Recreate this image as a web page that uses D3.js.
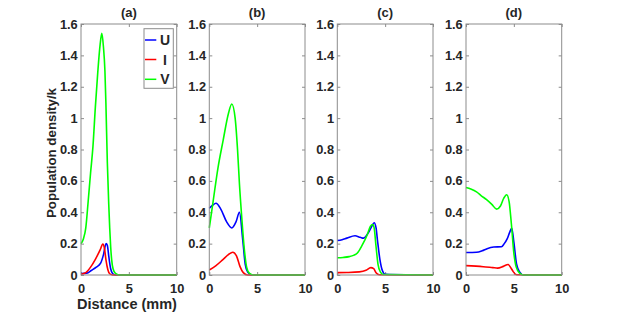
<!DOCTYPE html>
<html>
<head>
<meta charset="utf-8">
<script src="https://cdn.jsdelivr.net/npm/d3@7"></script>
<style>
  body { margin: 0; background: #fff; }
  svg text { font-family: "Liberation Sans", Arial, sans-serif; font-weight: bold; fill: #262626; }
</style>
</head>
<body>
<svg id="chart" width="623" height="313"></svg>
<script>
// panel titles and tick labels
const panelTitles = ["(a)", "(b)", "(c)", "(d)"];
const xTicks = [0, 5, 10];
const yTicks = [0, 0.2, 0.4, 0.6, 0.8, 1, 1.2, 1.4, 1.6];
const seriesNames = ["U", "I", "V"];
const seriesColors = ["#0000ff", "#ff0000", "#00ff00"];

// panel (a)
const aUx = [0, 0.6, 1.1, 1.6, 2.05, 2.35, 2.62, 2.75, 2.9, 3.1, 3.3, 3.6, 10];
const aUy = [0.01, 0.012, 0.03, 0.05, 0.075, 0.13, 0.2, 0.19, 0.12, 0.04, 0.01, 0, 0];
const aIx = [0, 0.5, 1.0, 1.5, 2.0, 2.28, 2.45, 2.6, 2.8, 3.0, 3.3, 10];
const aIy = [0.005, 0.015, 0.05, 0.1, 0.16, 0.197, 0.17, 0.1, 0.035, 0.008, 0, 0];
const aVx = [0, 0.25, 0.5, 0.75, 1.0, 1.25, 1.5, 1.75, 2.0, 2.18, 2.35, 2.5, 2.6, 2.75, 2.9, 3.0, 3.1, 3.2, 3.35, 3.6, 4.0, 10];
const aVy = [0.2, 0.23, 0.3, 0.47, 0.65, 0.82, 1.07, 1.29, 1.47, 1.54, 1.45, 1.3, 1.1, 0.72, 0.45, 0.3, 0.18, 0.1, 0.04, 0.01, 0, 0];

// panel (b)
const bUx = [0, 0.35, 0.7, 1.2, 1.8, 2.35, 2.8, 3.15, 3.5, 3.75, 4.0, 4.4, 10];
const bUy = [0.425, 0.445, 0.457, 0.42, 0.34, 0.3, 0.34, 0.4, 0.22, 0.07, 0.02, 0, 0];
const bIx = [0, 0.7, 1.45, 2.0, 2.45, 2.85, 3.2, 3.55, 4.0, 10];
const bIy = [0.032, 0.06, 0.1, 0.13, 0.145, 0.12, 0.055, 0.015, 0, 0];
const bVx = [0, 0.4, 0.9, 1.45, 2.0, 2.35, 2.7, 2.95, 3.15, 3.4, 3.65, 3.9, 4.2, 4.6, 10];
const bVy = [0.3, 0.47, 0.68, 0.86, 1.03, 1.09, 1.0, 0.8, 0.58, 0.36, 0.17, 0.05, 0.01, 0, 0];

// panel (c)
const cUx = [0, 0.5, 1.0, 1.85, 2.4, 2.75, 3.25, 3.6, 3.85, 4.05, 4.2, 4.45, 4.7, 5.0, 10];
const cUy = [0.22, 0.225, 0.235, 0.25, 0.24, 0.235, 0.27, 0.31, 0.333, 0.3, 0.22, 0.1, 0.03, 0.005, 0];
const cIx = [0, 1.0, 2.3, 3.0, 3.5, 3.8, 4.05, 4.4, 10];
const cIy = [0.015, 0.016, 0.02, 0.03, 0.047, 0.04, 0.015, 0.002, 0];
const cVx = [0, 0.6, 1.25, 1.7, 2.1, 2.6, 3.15, 3.45, 3.7, 3.85, 4.05, 4.25, 4.5, 4.8, 10];
const cVy = [0.11, 0.112, 0.117, 0.125, 0.14, 0.19, 0.26, 0.31, 0.322, 0.3, 0.18, 0.07, 0.02, 0.003, 0];

// panel (d)
const dUx = [0, 1.1, 1.7, 2.2, 2.9, 3.7, 4.0, 4.3, 4.55, 4.78, 5.0, 5.28, 5.6, 6.0, 10];
const dUy = [0.143, 0.145, 0.155, 0.168, 0.178, 0.18, 0.2, 0.23, 0.27, 0.298, 0.21, 0.07, 0.02, 0, 0];
const dIx = [0, 1.8, 2.8, 3.3, 3.9, 4.4, 4.7, 4.95, 5.3, 10];
const dIy = [0.06, 0.053, 0.047, 0.044, 0.055, 0.067, 0.045, 0.02, 0.002, 0];
const dVx = [0, 0.5, 1.1, 1.6, 2.15, 2.7, 3.2, 3.6, 3.95, 4.25, 4.5, 4.75, 5.0, 5.25, 5.6, 6.0, 10];
const dVy = [0.558, 0.548, 0.53, 0.505, 0.48, 0.45, 0.42, 0.44, 0.49, 0.512, 0.47, 0.32, 0.14, 0.05, 0.012, 0, 0];

const panels = [
    [[aUx, aUy], [aIx, aIy], [aVx, aVy]],
    [[bUx, bUy], [bIx, bIy], [bVx, bVy]],
    [[cUx, cUy], [cIx, cIy], [cVx, cVy]],
    [[dUx, dUy], [dIx, dIy], [dVx, dVy]]
];

const svg = d3.select("#chart");
const panelLeft = [81, 209.3, 337.3, 466];
const pw = 95.7, plotTop = 24, plotBottom = 275;
const axisColor = "#8c8c8c";

let y = d3.scaleLinear().domain([0, 1.6]).range([plotBottom, plotTop]);

panels.forEach((series, p) => {
    let x = d3.scaleLinear().domain([0, 10]).range([panelLeft[p], panelLeft[p] + pw]);
    let g = svg.append("g");

    g.append("rect")
        .attr("x", panelLeft[p]).attr("y", plotTop)
        .attr("width", pw).attr("height", plotBottom - plotTop)
        .attr("fill", "#fff");

    // tick marks point inward, labels only left and bottom
    let left = g.append("g").attr("transform", `translate(${panelLeft[p]},0)`)
        .call(d3.axisLeft(y).tickValues(yTicks).tickSize(-3).tickPadding(3.3).tickFormat(d3.format("")));
    let right = g.append("g").attr("transform", `translate(${panelLeft[p] + pw},0)`)
        .call(d3.axisRight(y).tickValues(yTicks).tickSize(-3).tickFormat(""));
    let bot = g.append("g").attr("transform", `translate(0,${plotBottom})`)
        .call(d3.axisBottom(x).tickValues(xTicks).tickSize(-3).tickPadding(9.3));
    let topAx = g.append("g").attr("transform", `translate(0,${plotTop})`)
        .call(d3.axisTop(x).tickValues(xTicks).tickSize(-3).tickFormat(""));

    [left, right, bot, topAx].forEach(a => {
        a.select(".domain").remove();
        a.selectAll(".tick line").attr("stroke", axisColor);
        a.selectAll(".tick text").attr("font-size", 12.8).attr("fill", "#262626")
            .style("font-family", "'Liberation Sans', Arial, sans-serif").style("font-weight", "bold");
    });

    let line = d3.line()
        .x(d => x(d[0]))
        .y(d => y(d[1]))
        .curve(d3.curveMonotoneX);

    series.forEach((s, i) => {
        let pts = s[0].map((v, k) => [v, s[1][k]]);
        g.append("path")
            .datum(pts)
            .attr("d", line)
            .attr("fill", "none")
            .attr("stroke", seriesColors[i])
            .attr("stroke-width", 1.6);
    });

    g.append("rect")
        .attr("x", panelLeft[p]).attr("y", plotTop)
        .attr("width", pw).attr("height", plotBottom - plotTop)
        .attr("fill", "none").attr("stroke", axisColor).attr("stroke-width", 1);

    g.append("text")
        .attr("x", panelLeft[p] + pw / 2).attr("y", 17)
        .attr("text-anchor", "middle").attr("font-size", 13)
        .text(panelTitles[p]);
});

// x label under the first panel
svg.append("text")
    .attr("x", 127).attr("y", 308.5)
    .attr("text-anchor", "middle").attr("font-size", 14.5)
    .text("Distance (mm)");

svg.append("text")
    .attr("transform", "translate(55.5,153) rotate(-90)")
    .attr("text-anchor", "middle").attr("font-size", 13.3)
    .text("Population density/k");

// legend in panel (a)
let legend = svg.append("g");
legend.append("rect")
    .attr("x", 144).attr("y", 28.7).attr("width", 29.3).attr("height", 59.6)
    .attr("fill", "#fff").attr("stroke", axisColor).attr("stroke-width", 1);
let rowY = [40, 59.5, 79.3];
seriesNames.forEach((n, i) => {
    legend.append("line")
        .attr("x1", 145).attr("x2", 156.3)
        .attr("y1", rowY[i]).attr("y2", rowY[i])
        .attr("stroke", seriesColors[i]).attr("stroke-width", 1.5);
    legend.append("text")
        .attr("x", 165).attr("y", rowY[i]).attr("dy", "0.36em")
        .attr("text-anchor", "middle").attr("font-size", 14)
        .text(n);
});
</script>
</body>
</html>
